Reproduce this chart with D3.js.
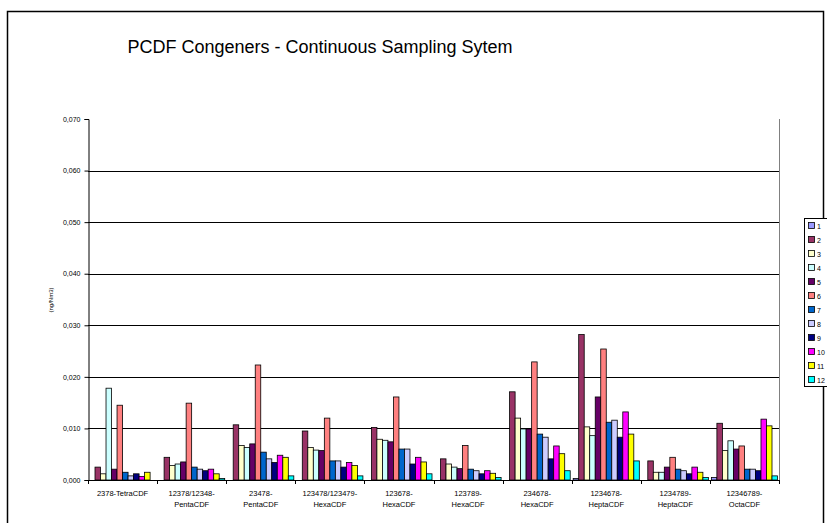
<!DOCTYPE html>
<html><head><meta charset="utf-8">
<script src="https://cdn.jsdelivr.net/npm/d3@7"></script>
<style>body{margin:0;background:#fff}svg{display:block}text{font-family:"Liberation Sans",Arial,sans-serif}</style>
</head><body><svg id="c" width="827" height="523"></svg>
<script>
const categories = [
  ["2378-TetraCDF"],
  ["12378/12348-","PentaCDF"],
  ["23478-","PentaCDF"],
  ["123478/123479-","HexaCDF"],
  ["123678-","HexaCDF"],
  ["123789-","HexaCDF"],
  ["234678-","HexaCDF"],
  ["1234678-","HeptaCDF"],
  ["1234789-","HeptaCDF"],
  ["12346789-","OctaCDF"]
];
const seriesNames = ["1","2","3","4","5","6","7","8","9","10","11","12"];
const colors = ["#9999FF","#993366","#FFFFCC","#CCFFFF","#660066","#FF8080","#0066CC","#CCCCFF","#000080","#FF00FF","#FFFF00","#00FFFF"];
// values[series][category]
const s1  = [0,      0,      0,      0,      0,      0,      0,      0.0003, 0,      0.0005];
const s2  = [0.0025, 0.0044, 0.0107, 0.0095, 0.0102, 0.0041, 0.0171, 0.0282, 0.0037, 0.0110];
const s3  = [0.0012, 0.0028, 0.0067, 0.0063, 0.0079, 0.0031, 0.0120, 0.0103, 0.0015, 0.0057];
const s4  = [0.0178, 0.0031, 0.0063, 0.0058, 0.0077, 0.0025, 0.0099, 0.0086, 0.0015, 0.0076];
const s5  = [0.0021, 0.0035, 0.0070, 0.0057, 0.0074, 0.0022, 0.0099, 0.0161, 0.0025, 0.0060];
const s6  = [0.0145, 0.0149, 0.0223, 0.0120, 0.0161, 0.0067, 0.0229, 0.0254, 0.0044, 0.0066];
const s7  = [0.0015, 0.0025, 0.0054, 0.0037, 0.0060, 0.0021, 0.0089, 0.0112, 0.0021, 0.0021];
const s8  = [0.0008, 0.0021, 0.0041, 0.0037, 0.0060, 0.0018, 0.0083, 0.0116, 0.0018, 0.0021];
const s9  = [0.0012, 0.0018, 0.0034, 0.0025, 0.0031, 0.0012, 0.0041, 0.0083, 0.0012, 0.0018];
const s10 = [0.0007, 0.0021, 0.0048, 0.0034, 0.0044, 0.0018, 0.0066, 0.0132, 0.0025, 0.0118];
const s11 = [0.0015, 0.0012, 0.0044, 0.0028, 0.0035, 0.0013, 0.0051, 0.0089, 0.0015, 0.0105];
const s12 = [0,      0.0003, 0.0008, 0.0008, 0.0012, 0.0005, 0.0018, 0.0037, 0.0005, 0.0008];
const values = [s1,s2,s3,s4,s5,s6,s7,s8,s9,s10,s11,s12];
const yTicks = [0,0.01,0.02,0.03,0.04,0.05,0.06,0.07];
const yTickLabels = ["0,000","0,010","0,020","0,030","0,040","0,050","0,060","0,070"];
const title = "PCDF Congeners - Continuous Sampling Sytem";
const yTitle = "(ng/Nm3)";

const svg = d3.select("#c");
// outer chart border
svg.append("rect").attr("x",7.5).attr("y",11.5).attr("width",816).attr("height",520)
  .attr("fill","#fff").attr("stroke","#000").attr("stroke-width",1.5);

const L=88, R=779, T=119, B=480;
const x0 = d3.scaleBand().domain(d3.range(categories.length)).range([L,R]).paddingInner(0).paddingOuter(0);
const x1 = d3.scaleBand().domain(d3.range(seriesNames.length)).range([0,x0.bandwidth()]).paddingOuter(0.27).paddingInner(0);
const y = d3.scaleLinear().domain([0,0.07]).range([B,T]);

// gridlines
svg.append("g").selectAll("line").data(yTicks.filter(v=>v>0 && v<0.07)).join("line")
  .attr("x1",L).attr("x2",R).attr("y1",d=>Math.round(y(d))+0.5).attr("y2",d=>Math.round(y(d))+0.5)
  .attr("stroke","#000").attr("stroke-width",1);
// plot right border
svg.append("line").attr("x1",R+0.5).attr("x2",R+0.5).attr("y1",T).attr("y2",B).attr("stroke","#808080");

// bars
const g = svg.append("g");
categories.forEach((c,ci)=>{
  values.forEach((ser,si)=>{
    const v = ser[ci];
    if(v<=0) return;
    g.append("rect")
      .attr("x", x0(ci)+x1(si))
      .attr("y", y(v))
      .attr("width", x1.bandwidth())
      .attr("height", B - y(v))
      .attr("fill", colors[si]).attr("stroke","#000").attr("stroke-width",0.8);
  });
});

// y axis
const ya = d3.axisLeft(y).tickValues(yTicks).tickFormat((d,i)=>yTickLabels[i]).tickSize(4).tickPadding(4);
const yg = svg.append("g").attr("transform",`translate(${L+0.5},0)`).call(ya);
yg.select(".domain").attr("stroke","#000");
yg.selectAll("text").attr("font-size","7px").attr("fill","#000");

// x axis
svg.append("line").attr("x1",L).attr("x2",R).attr("y1",B+0.5).attr("y2",B+0.5).attr("stroke","#000");
svg.append("g").selectAll("line").data(d3.range(categories.length+1)).join("line")
  .attr("x1",d=>Math.round(L+d*x0.bandwidth())+0.5).attr("x2",d=>Math.round(L+d*x0.bandwidth())+0.5)
  .attr("y1",B).attr("y2",B+4).attr("stroke","#000");
const xl = svg.append("g");
categories.forEach((c,ci)=>{
  c.forEach((line,li)=>{
    xl.append("text").attr("x",x0(ci)+x0.bandwidth()/2).attr("y",496+li*11)
      .attr("text-anchor","middle").attr("font-size","7.5px").attr("fill","#000").text(line);
  });
});

// title
svg.append("text").attr("x",320).attr("y",53).attr("text-anchor","middle")
  .attr("font-size","18px").attr("fill","#000").text(title);
// y title
svg.append("text").attr("transform","translate(53,300) rotate(-90)").attr("text-anchor","middle")
  .attr("font-size","6px").attr("fill","#000").text(yTitle);

// legend
const lg = svg.append("g");
lg.append("rect").attr("x",804.5).attr("y",218.5).attr("width",30).attr("height",168).attr("fill","#fff").attr("stroke","#000");
seriesNames.forEach((n,i)=>{
  const yy = 226 + i*14;
  lg.append("rect").attr("x",808.5).attr("y",yy-3.5).attr("width",6).attr("height",6)
    .attr("fill",colors[i]).attr("stroke","#000").attr("stroke-width",0.8);
  lg.append("text").attr("x",817).attr("y",yy+2.5).attr("font-size","7px").attr("fill","#000").text(n);
});
</script></body></html>
